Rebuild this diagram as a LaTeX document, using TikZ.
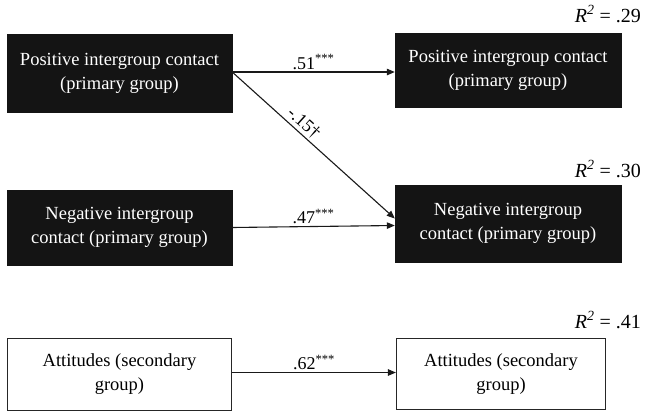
\documentclass[tikz,border=0pt]{standalone}
\usepackage{fontspec}
\setmainfont{Liberation Serif}
\usetikzlibrary{arrows.meta}
\begin{document}
\begin{tikzpicture}[x=1pt,y=-1pt,
  darkbox/.style={fill=black!92,draw=black!92,text=white,align=center,font=\fontsize{18.5}{24}\selectfont,inner sep=0pt},
  lightbox/.style={fill=white,draw=black!85,line width=1.2pt,align=center,font=\fontsize{18.5}{24}\selectfont,inner sep=0pt},
  arr/.style={-{Triangle[length=8pt,width=6.5pt]},line width=1.1pt,draw=black!90},
  coef/.style={font=\fontsize{18}{20}\selectfont,inner sep=1pt},
  rsq/.style={font=\fontsize{20}{22}\selectfont,anchor=base east,inner sep=0pt}]
\useasboundingbox (0,0) rectangle (648,413);
\node[darkbox,minimum width=225pt,minimum height=78pt] (A) at (119.5,73.5) {Positive intergroup contact\\(primary group)};
\node[darkbox,minimum width=226pt,minimum height=74pt] (B) at (508,70) {Positive intergroup contact\\(primary group)};
\node[darkbox,minimum width=225pt,minimum height=75pt] (C) at (119.5,227.5) {Negative intergroup\\contact (primary group)};
\node[darkbox,minimum width=226pt,minimum height=77pt] (D) at (508,223.5) {Negative intergroup\\contact (primary group)};
\node[lightbox,minimum width=224pt,minimum height=72pt] (E) at (119.5,374.5) {Attitudes (secondary\\group)};
\node[lightbox,minimum width=209pt,minimum height=71pt] (F) at (501,374) {Attitudes (secondary\\group)};
\draw[arr] ([yshift=1.5pt]A.east) -- ([yshift=1.5pt]A.east -| B.west) node[coef,midway,above=1pt] {.51\textsuperscript{***}};
\draw[arr] ([yshift=1.5pt]A.east) -- ([yshift=5pt]D.west) node[coef,pos=0.4,sloped,above=1pt] {-.15†};
\draw[arr] (C.east) -- ([yshift=-2pt]D.west) node[coef,midway,above=1pt] {.47\textsuperscript{***}};
\draw[arr] ([yshift=2pt]E.east) -- ([yshift=2pt]E.east -| F.west) node[coef,midway,above=1pt] {.62\textsuperscript{***}};
\node[rsq] (r1) at (641,22) {\textit{R}\textsuperscript{\textit{2}} = .29};
\node[rsq] (r2) at (641,177) {\textit{R}\textsuperscript{\textit{2}} = .30};
\node[rsq] (r3) at (641,328) {\textit{R}\textsuperscript{\textit{2}} = .41};
\end{tikzpicture}
\end{document}
